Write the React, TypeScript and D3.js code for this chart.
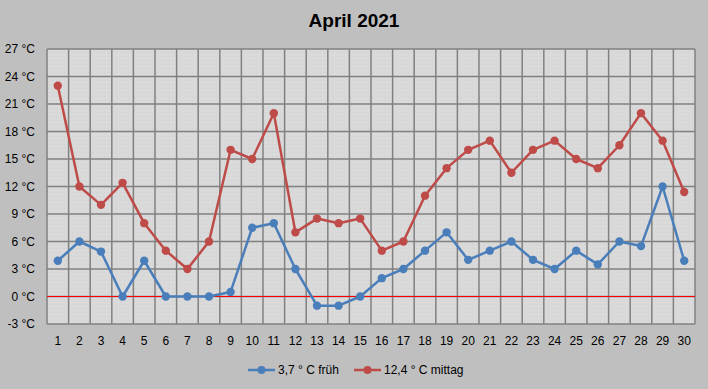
import React from "react";
import * as d3 from "d3";

const days = d3.range(1, 31).map(String);
const frueh = [3.9, 6, 4.9, 0, 3.9, 0, 0, 0, 0.5, 7.5, 8, 3, -1, -1, 0, 2, 3, 5, 7, 4, 5, 6, 4, 3, 5, 3.5, 6, 5.5, 12, 3.9];
const mittag = [23, 12, 10, 12.4, 8, 5, 3, 6, 16, 15, 20, 7, 8.5, 8, 8.5, 5, 6, 11, 14, 16, 17, 13.5, 16, 17, 15, 14, 16.5, 20, 17, 11.4];
const yTicks = [-3, 0, 3, 6, 9, 12, 15, 18, 21, 24, 27];
const seriesNames = ["3,7 ° C früh", "12,4 ° C mittag"];
const title = "April 2021";

const W = 708, H = 389;
const L = 47, R = 695, T = 49, B = 324;
const BLUE = "#4a7ebb", RED = "#be4b48";

export default function App() {
  const x = d3.scaleBand<string>().domain(days).range([L, R]);
  const y = d3.scaleLinear().domain([-3, 27]).range([B, T]);
  const cx = (i: number) => (x(days[i]) as number) + x.bandwidth() / 2;
  const line = d3.line<number>().x((_, i) => cx(i)).y((d) => y(d));
  const series = [
    { name: seriesNames[0], data: frueh, color: BLUE },
    { name: seriesNames[1], data: mittag, color: RED },
  ];
  const font = "'Liberation Sans', Arial, sans-serif";
  return (
    <svg width={W} height={H} style={{ position: "absolute", left: 0, top: 0, fontFamily: font }}>
      <defs>
        <pattern id="tex" width="4" height="4" patternUnits="userSpaceOnUse">
          <rect width="4" height="4" fill="#d9d9d9" />
          <rect x="0" y="0" width="1" height="1" fill="#d2d2d2" />
          <rect x="2" y="2" width="1" height="1" fill="#dedede" />
        </pattern>
      </defs>
      <rect width={W} height={H} fill="#bfbfbf" />
      <text x={354} y={27} textAnchor="middle" fontSize={19} fontWeight="bold" fill="#000">{title}</text>
      <rect x={L} y={T} width={R - L} height={B - T} fill="url(#tex)" />
      {yTicks.map((t) => (
        <line key={"h" + t} x1={L} x2={R} y1={y(t)} y2={y(t)} stroke="#808080" strokeWidth={1.5} />
      ))}
      {d3.range(0, days.length + 1).map((i) => {
        const xx = L + i * x.step();
        return <line key={"v" + i} x1={xx} x2={xx} y1={T} y2={B} stroke="#808080" strokeWidth={1.5} />;
      })}
      <line x1={L} x2={R} y1={y(0)} y2={y(0)} stroke="#ff0000" strokeWidth={1.2} />
      {yTicks.map((t) => (
        <text key={"yl" + t} x={35} y={y(t) + 4} textAnchor="end" fontSize={12} fill="#000">
          {t + " °C"}
        </text>
      ))}
      {days.map((d, i) => (
        <text key={"xl" + d} x={cx(i)} y={345} textAnchor="middle" fontSize={12} fill="#000">
          {d}
        </text>
      ))}
      {series.map((s) => (
        <g key={s.name}>
          <path d={line(s.data) as string} fill="none" stroke={s.color} strokeWidth={2.5} strokeLinejoin="round" />
          {s.data.map((v, i) => (
            <circle key={i} cx={cx(i)} cy={y(v)} r={4.2} fill={s.color} />
          ))}
        </g>
      ))}
      {series.map((s, k) => {
        const lx = k === 0 ? 248 : 354;
        return (
          <g key={"lg" + k}>
            <line x1={lx} x2={lx + 27} y1={370} y2={370} stroke={s.color} strokeWidth={2.5} />
            <circle cx={lx + 13.5} cy={370} r={4} fill={s.color} />
            <text x={lx + 30} y={374} fontSize={12} fill="#000">{s.name}</text>
          </g>
        );
      })}
    </svg>
  );
}
